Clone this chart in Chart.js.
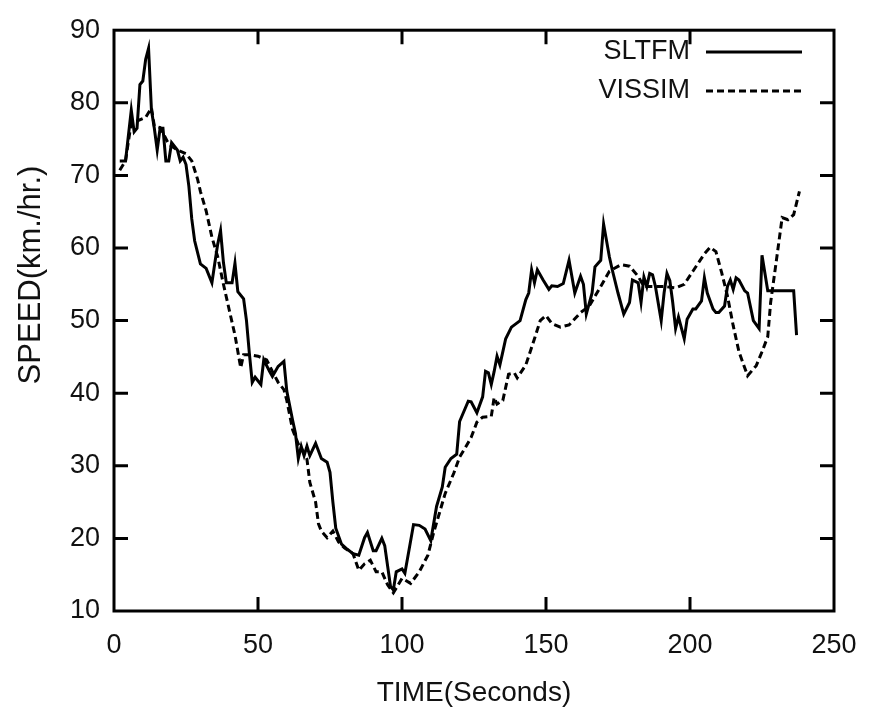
<!DOCTYPE html>
<html>
<head>
<meta charset="utf-8">
<script src="https://cdn.jsdelivr.net/npm/chart.js@4.4.0/dist/chart.umd.min.js"></script>
<style>
  html, body { margin: 0; padding: 0; background: #fff; }
</style>
</head>
<body>
<canvas id="myChart" width="878" height="715"></canvas>
<script>
// values
const sltfmTime = [2,4,6,7,8,9,10,11,12,13,14,15,16,17,18,19,20,22,23,24,25,26,27,28,30,32,34,35,36,37,
  38,39,41,42,43,45,46,47,48,49,51,52,54,55,57,59,60,62,63,64,65,66,67,68,70,72,74,75,76,77,
  79,81,83,85,87,88,90,91,93,94,96,97,98,100,101,104,106,108,110,112,114,115,117,119,120,123,124,126,128,129,
  130,131,132,133,134,135,136,138,141,143,144,145,146,147,149,151,152,154,156,158,160,162,163,164,166,167,169,170,172,173,
  175,177,179,180,182,183,184,185,186,187,188,190,191,192,193,194,195,196,198,199,201,202,204,205,206,208,209,210,212,213,
  214,215,216,217,219,220,222,224,225,227,236,237];
const sltfmSpeed = [72,72,79,76,76.5,82.5,83,86,87.5,79,76.5,73.5,76.5,76.5,72,72,74.5,73.5,72,72.5,71.5,68.5,64,61,57.8,57.2,55.2,57.9,60.5,62.4,
  58,55.2,55.2,57.9,54,53,50,45.5,41.5,42.2,41.2,44.6,43,42.3,43.7,44.4,40.3,36.3,34.5,31,32.7,31.4,32.7,31.4,33.1,31,30.5,29.1,25,21.4,
  19.2,18.5,17.9,17.7,20.1,20.8,18.3,18.3,20,19,13.4,12.9,15.4,15.8,15.2,21.9,21.8,21.3,19.7,24.4,27.1,29.8,31,31.6,36.1,38.9,38.8,37.3,39.5,43,
  42.8,41.2,43,45.1,43.9,45.7,47.5,49.1,50,52.9,53.8,57,55.2,57,55.6,54.3,54.8,54.7,55.1,58.3,53.8,56.1,55,50.9,53.8,57.4,58.3,63.3,58.8,57,
  53.8,50.9,52.5,55.6,55.2,52.5,56,54.7,56.5,56.3,54.7,50,53.8,56.5,55.5,52.5,48.9,50.5,47.5,50.2,51.6,51.6,52.7,55.9,53.8,51.6,51.1,51.1,52,54.7,
  55.6,54.3,55.9,55.6,54.1,53.8,50,48.9,59,54.1,54.1,48];

const vissimTime = [2,4,6,8,11,13,14,16,19,22,25,27,29,30,32,34,36,38,40,42,44,45,47,50,53,55,57,59,60,62,
  64,65,67,68,70,71,72,74,76,78,80,83,85,87,89,91,93,95,97,100,103,106,109,111,113,115,118,120,122,124,
  126,128,131,132,133,135,137,139,140,143,146,148,150,152,155,158,162,165,169,172,176,179,182,184,188,191,195,198,201,205,
  207,209,211,213,215,217,220,223,225,227,228,230,232,234,236,238];
const vissimSpeed = [70.7,72,77.3,77.5,78,79.3,76.8,76.6,74.3,73.5,73,72,69.5,67.8,65.1,61.5,58.8,55,51.5,48,43.5,45.3,45.3,45.1,44.6,43,41.5,40.5,39,35,
  33,32.5,30.9,27.7,25,22,21,20.1,21,19.5,18.7,17.9,15.6,16.5,17,15.4,15.4,13.6,12.5,14.5,13.8,15.4,17.7,20.8,23.5,26.2,29,31.2,32.5,33.9,
  36,36.7,36.8,39.4,38.5,39,42.6,42.8,42.1,43.9,47.5,50,50.7,49.6,49.1,49.4,51.1,52,54.7,56.8,57.7,57.5,56.1,54.7,54.7,54.7,54.5,55,56.8,59.2,
  60.1,59.5,56.6,53.4,49.3,45.7,42.4,43.8,45.7,47.8,52.5,58.3,64.2,63.9,64.6,67.8];

const xTicks = [0, 50, 100, 150, 200, 250];
const yTicks = [10, 20, 30, 40, 50, 60, 70, 80, 90];

const fontFamily = '"Liberation Sans", Arial, Helvetica, sans-serif';
const textColor = '#111';

function toPoints(xs, ys) {
  return xs.map((t, i) => ({ x: t, y: ys[i] }));
}

// frame with inward ticks on all four sides, the y title and the legend
const framePlugin = {
  id: 'frame',
  afterDatasetsDraw(chart) {
    const { ctx, chartArea: a } = chart;
    const xs = chart.scales.x, ys = chart.scales.y;
    const tick = 14;
    ctx.save();
    ctx.strokeStyle = '#000';
    ctx.lineWidth = 3;
    ctx.setLineDash([]);
    ctx.strokeRect(a.left, a.top, a.right - a.left, a.bottom - a.top);
    ctx.beginPath();
    xTicks.slice(1, -1).forEach(v => {
      const px = xs.getPixelForValue(v);
      ctx.moveTo(px, a.bottom); ctx.lineTo(px, a.bottom - tick);
      ctx.moveTo(px, a.top); ctx.lineTo(px, a.top + tick);
    });
    yTicks.slice(1, -1).forEach(v => {
      const py = ys.getPixelForValue(v);
      ctx.moveTo(a.left, py); ctx.lineTo(a.left + tick, py);
      ctx.moveTo(a.right, py); ctx.lineTo(a.right - tick, py);
    });
    ctx.stroke();

    // legend: text then line sample
    ctx.font = '27px ' + fontFamily;
    ctx.fillStyle = textColor;
    ctx.textAlign = 'right';
    ctx.textBaseline = 'middle';
    chart.data.datasets.forEach((ds, i) => {
      const ly = 52 + i * 39;
      ctx.fillText(ds.label, 690, ly);
      ctx.beginPath();
      ctx.lineWidth = ds.borderWidth;
      ctx.setLineDash(ds.borderDash || []);
      ctx.moveTo(706, ly);
      ctx.lineTo(802, ly);
      ctx.stroke();
    });

    // y axis title
    ctx.setLineDash([]);
    ctx.translate(31, 275);
    ctx.rotate(-Math.PI / 2);
    ctx.textAlign = 'center';
    ctx.font = '31px ' + fontFamily;
    ctx.fillText('SPEED(km./hr.)', 0, 0);
    ctx.restore();
  }
};

const data = {
  datasets: [
    {
      label: 'SLTFM',
      data: toPoints(sltfmTime, sltfmSpeed),
      borderColor: '#000',
      borderWidth: 3,
      pointRadius: 0,
      tension: 0,
      fill: false
    },
    {
      label: 'VISSIM',
      data: toPoints(vissimTime, vissimSpeed),
      borderColor: '#000',
      borderWidth: 3,
      borderDash: [7, 4],
      pointRadius: 0,
      tension: 0,
      fill: false
    }
  ]
};

const config = {
  type: 'line',
  data: data,
  options: {
    responsive: false,
    animation: false,
    devicePixelRatio: 1,
    layout: { padding: { left: 0, top: 19, right: 44, bottom: 0 } },
    plugins: {
      legend: { display: false },
      tooltip: { enabled: false }
    },
    scales: {
      x: {
        type: 'linear',
        min: 0,
        max: 250,
        afterBuildTicks: s => { s.ticks = xTicks.map(v => ({ value: v })); },
        afterFit: s => { s.height = 104; },
        grid: { display: false, drawTicks: false },
        border: { display: false },
        ticks: {
          padding: 18,
          color: textColor,
          maxRotation: 0,
          font: { family: fontFamily, size: 27 }
        },
        title: {
          display: true,
          text: 'TIME(Seconds)',
          color: textColor,
          padding: { top: 0, bottom: 5 },
          font: { family: fontFamily, size: 28 }
        }
      },
      y: {
        type: 'linear',
        min: 10,
        max: 90,
        afterBuildTicks: s => { s.ticks = yTicks.map(v => ({ value: v })); },
        afterFit: s => { s.width = 114; },
        grid: { display: false, drawTicks: false },
        border: { display: false },
        ticks: {
          padding: 14,
          color: textColor,
          font: { family: fontFamily, size: 27 }
        }
      }
    }
  },
  plugins: [framePlugin]
};

const myChart = new Chart(document.getElementById('myChart'), config);
</script>
</body>
</html>
